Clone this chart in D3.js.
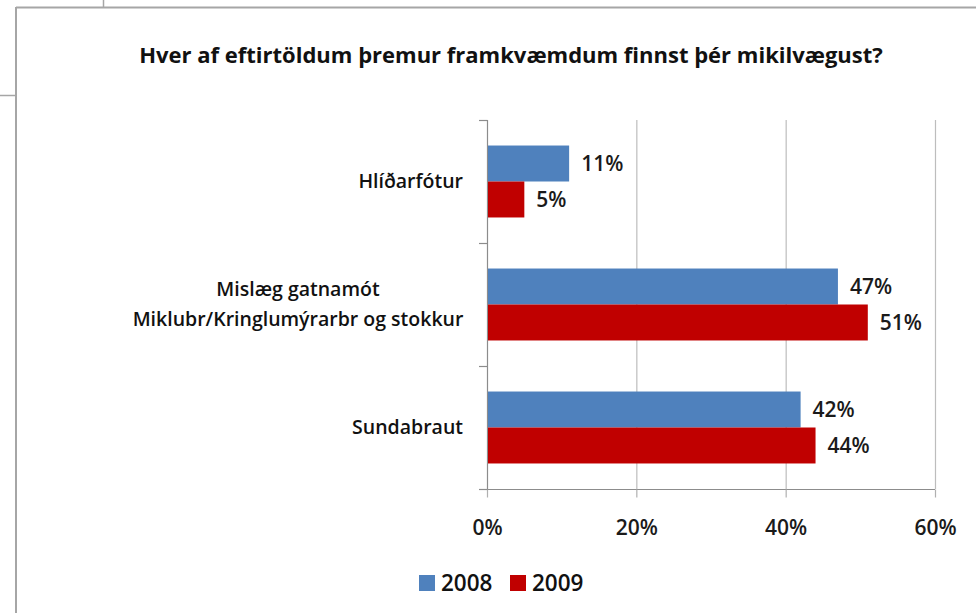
<!DOCTYPE html>
<html><head><meta charset="utf-8">
<script src="https://cdn.jsdelivr.net/npm/d3@7"></script>
<style>
html,body{margin:0;padding:0;background:#fff;}
svg{display:block;font-family:"Open Sans",Lato,sans-serif;}
</style></head>
<body>
<svg id="c" width="976" height="613"></svg>
<script>
const title = "Hver af eftirtöldum þremur framkvæmdum finnst þér mikilvægust?";
const categories = [["Hlíðarfótur"], ["Mislæg gatnamót", "Miklubr/Kringlumýrarbr og stokkur"], ["Sundabraut"]];
const seriesNames = ["2008", "2009"];
const values2008 = [11, 47, 42];
const values2009 = [5, 51, 44];
const xTicks = [0, 20, 40, 60];
const colors = ["#4f81bd", "#c00000"];

const SB = 600; // semibold weight
const svg = d3.select("#c");
// frame of the embedded chart
svg.append("line").attr("x1",16).attr("x2",976).attr("y1",7.5).attr("y2",7.5).attr("stroke","#a6a6a6").attr("stroke-width",2);
svg.append("line").attr("x1",16).attr("x2",16).attr("y1",7).attr("y2",613).attr("stroke","#a6a6a6").attr("stroke-width",2);
svg.append("line").attr("x1",103.5).attr("x2",103.5).attr("y1",0).attr("y2",7).attr("stroke","#a6a6a6").attr("stroke-width",1.5);
svg.append("line").attr("x1",0).attr("x2",16).attr("y1",95.5).attr("y2",95.5).attr("stroke","#a6a6a6").attr("stroke-width",1.5);

const x = d3.scaleLinear().domain([0,60]).range([487,935]);
const y = d3.scaleBand().domain(d3.range(categories.length)).range([120,489]).paddingInner(0.415).paddingOuter(0.2075);
const inner = d3.scaleBand().domain(d3.range(seriesNames.length)).range([0,y.bandwidth()]);

svg.append("text").attr("x",511).attr("y",63).attr("text-anchor","middle")
  .attr("font-size",22).attr("font-weight","bold").attr("fill","#111").text(title);

// gridlines
svg.append("g").selectAll("line").data(xTicks.slice(1)).join("line")
  .attr("x1",d=>x(d)+0.5).attr("x2",d=>x(d)+0.5).attr("y1",120).attr("y2",489)
  .attr("stroke","#bdbdbd").attr("stroke-width",1.2);

// bottom axis
const xAxis = d3.axisBottom(x).tickValues(xTicks).tickFormat(d=>d+"%").tickSize(8).tickPadding(23);
const gx = svg.append("g").attr("transform","translate(0,489.5)").call(xAxis);
gx.select(".domain").attr("stroke","#8c8c8c").attr("d","M479,0H935");
gx.selectAll(".tick line").attr("stroke","#b0b0b0").attr("stroke-width",1.2);
gx.selectAll(".tick text").attr("font-size",21).attr("font-weight",SB).attr("fill","#1a1a1a").attr("font-family","'Open Sans',sans-serif");

// left axis with ticks at band boundaries
const bounds = [120].concat(d3.range(categories.length).map(i=>y(i)+y.bandwidth()+y.step()*y.paddingInner()/2));
bounds[bounds.length-1] = 489;
const ga = svg.append("g");
ga.append("line").attr("x1",487.5).attr("x2",487.5).attr("y1",120).attr("y2",489).attr("stroke","#8c8c8c").attr("stroke-width",1.2);
ga.selectAll("line.t").data(bounds).join("line").attr("class","t")
  .attr("x1",479).attr("x2",487.5).attr("y1",d=>Math.round(d)+0.5).attr("y2",d=>Math.round(d)+0.5)
  .attr("stroke","#8c8c8c").attr("stroke-width",1.2);

// bars
const rows = categories.map((c,i)=>({i, vals:[values2008[i], values2009[i]]}));
const g = svg.append("g");
rows.forEach(r=>{
  r.vals.forEach((v,s)=>{
    g.append("rect").attr("x",x(0)+1).attr("y",y(r.i)+inner(s)).attr("width",x(v)-x(0)-1).attr("height",inner.bandwidth())
      .attr("fill",colors[s]);
    g.append("text").attr("x",x(v)+12).attr("y",y(r.i)+inner(s)+inner.bandwidth()/2).attr("dy","0.36em")
      .attr("font-size",21).attr("font-weight",SB).attr("fill","#1a1a1a").text(v+"%");
  });
});

// category labels
categories.forEach((lines,i)=>{
  const cy = y(i)+y.bandwidth()/2;
  const t = svg.append("text").attr("font-size",19.5).attr("font-weight",SB).attr("fill","#111");
  if(lines.length===1){
    t.attr("x",463).attr("y",cy).attr("dy","0.35em").attr("text-anchor","end").text(lines[0]);
  } else {
    lines.forEach((l,k)=>{
      t.append("tspan").attr("x",298).attr("text-anchor","middle").attr("y",cy+(k-(lines.length-1)/2)*30).attr("dy","0.35em").text(l);
    });
  }
});

// legend
const lg = svg.append("g").attr("transform","translate(419,575)");
seriesNames.forEach((n,s)=>{
  const item = lg.append("g").attr("transform",`translate(${s*91},0)`);
  item.append("rect").attr("width",16).attr("height",16).attr("fill",colors[s]);
  item.append("text").attr("x",22).attr("y",16).attr("font-size",22.5).attr("font-weight",SB).attr("fill","#111").text(n);
});
</script>
</body></html>
